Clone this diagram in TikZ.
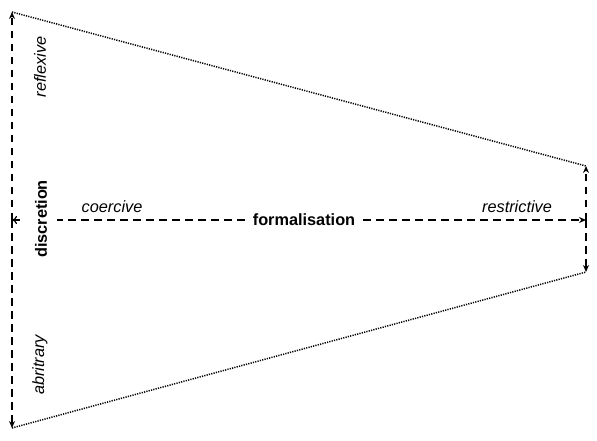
\documentclass[tikz,border=0pt]{standalone}
\usepackage{fontspec}
\setmainfont{Liberation Sans}
\usetikzlibrary{arrows.meta}
\begin{document}
\begin{tikzpicture}[x=1pt,y=-1pt,
  dline/.style={line width=1.4pt, dash pattern=on 7.5pt off 5.5pt},
  dotline/.style={line width=1.5pt, dash pattern=on 1.2pt off 1.2pt},
  tip/.style={-{Stealth[length=7pt,width=6pt]}},
  lbl/.style={font=\fontsize{16.3}{18}\selectfont\itshape, inner sep=1pt},
  blbl/.style={font=\fontsize{16.3}{18}\selectfont\bfseries, inner sep=1pt, fill=white}]
\useasboundingbox (0,0) rectangle (597,440);
\coordinate (TL) at (12,12);
\coordinate (BL) at (12,428);
\coordinate (TR) at (586,166);
\coordinate (BR) at (586,272);
\coordinate (ML) at (12,220);
\coordinate (MR) at (586,220);
\coordinate (MLs) at (57,220);
\coordinate (MC) at (304,220);
% dotted outline
\draw[dotline] (TL) -- (TR);
\draw[dotline] (BL) -- (BR);
% left vertical
\draw[dline, tip] (ML) -- (TL);
\draw[dline, tip] (ML) -- (BL);
% right vertical
\draw[dline, tip] (MR) -- (TR);
\draw[dline, tip] (MR) -- (BR);
% horizontal
\node[blbl, inner xsep=8pt] (formal) at (MC) {formalisation};
\draw[dline, tip] (formal) -- (MR);
\draw[dline] (formal) -- (MLs);
\draw[line width=1.2pt, -{To[length=5pt,width=8pt]}] (20,220) -- (ML);
% labels
\node[blbl, rotate=90, fill=none] (disc) at (41,219) {discretion};
\node[lbl, rotate=90] (refl) at (40,67) {reflexive};
\node[lbl, rotate=90] (abr) at (40,365) {abritrary};
\node[lbl] (coer) at (112,207) {coercive};
\node[lbl] (restr) at (517,207) {restrictive};
\end{tikzpicture}
\end{document}
